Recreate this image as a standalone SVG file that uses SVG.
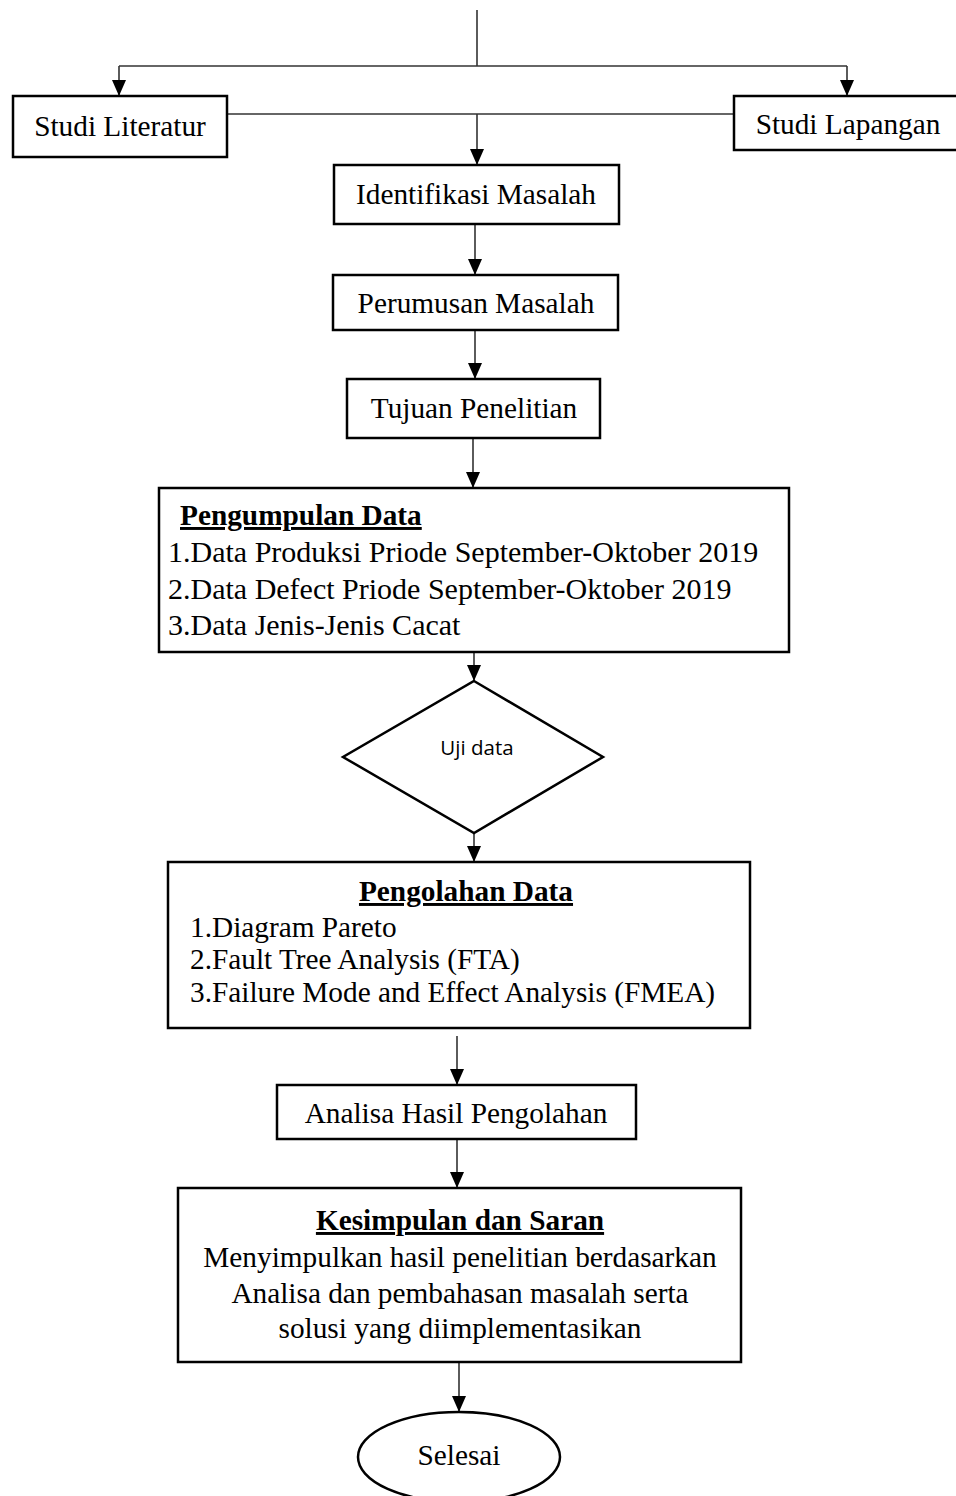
<svg xmlns="http://www.w3.org/2000/svg" width="956" height="1496" viewBox="0 0 956 1496">
  <style>
    .box { fill: #fff; stroke: #000; stroke-width: 2.5; }
    .wire { fill: none; stroke: #333; stroke-width: 1.6; }
    .t { font-family: "Liberation Serif", "Times New Roman", serif; font-size: 29.3px; fill: #000; }
    .big { font-size: 30px; }
    .c { text-anchor: middle; }
    .h { font-weight: bold; text-decoration: underline; }
    .s { font-family: "Open Sans", "Noto Sans", sans-serif; font-size: 20.5px; fill: #000; }
  </style>
  <defs>
    <marker id="arrow" markerUnits="userSpaceOnUse" markerWidth="17" markerHeight="15" refX="16" refY="7" orient="auto">
      <path d="M0,0 L16,7 L0,14 Z" fill="#000"/>
    </marker>
  </defs>

  <!-- connectors -->
  <g id="connectors">
    <path class="wire" d="M477,10 V66"/>
    <path class="wire" d="M119,66 H847"/>
    <path class="wire" d="M119,66 V96" marker-end="url(#arrow)"/>
    <path class="wire" d="M847,66 V96" marker-end="url(#arrow)"/>
    <path class="wire" d="M227,114 H734"/>
    <path class="wire" d="M477,114 V165" marker-end="url(#arrow)"/>
    <path class="wire" d="M475,224 V275" marker-end="url(#arrow)"/>
    <path class="wire" d="M475,330 V379" marker-end="url(#arrow)"/>
    <path class="wire" d="M473,438 V488" marker-end="url(#arrow)"/>
    <path class="wire" d="M474,652 V681" marker-end="url(#arrow)"/>
    <path class="wire" d="M474,833 V862" marker-end="url(#arrow)"/>
    <path class="wire" d="M457,1036 V1085" marker-end="url(#arrow)"/>
    <path class="wire" d="M457,1139 V1188" marker-end="url(#arrow)"/>
    <path class="wire" d="M459,1362 V1412" marker-end="url(#arrow)"/>
  </g>

  <g id="studi-literatur">
    <rect class="box" x="13" y="96" width="214" height="61"/>
    <text class="t c" x="120" y="136">Studi Literatur</text>
  </g>

  <g id="studi-lapangan">
    <rect class="box" x="734" y="96" width="240" height="54"/>
    <text class="t c" x="848" y="134">Studi Lapangan</text>
  </g>

  <g id="identifikasi-masalah">
    <rect class="box" x="334" y="165" width="285" height="59"/>
    <text class="t c" x="476" y="204">Identifikasi Masalah</text>
  </g>

  <g id="perumusan-masalah">
    <rect class="box" x="333" y="275" width="285" height="55"/>
    <text class="t c" x="476" y="313">Perumusan Masalah</text>
  </g>

  <g id="tujuan-penelitian">
    <rect class="box" x="347" y="379" width="253" height="59"/>
    <text class="t c" x="474" y="418">Tujuan Penelitian</text>
  </g>

  <g id="pengumpulan-data">
    <rect class="box" x="159" y="488" width="630" height="164"/>
    <text class="t h" x="180" y="525">Pengumpulan Data</text>
    <text class="t big" x="168" y="562">1.Data Produksi Priode September-Oktober 2019</text>
    <text class="t big" x="168" y="599">2.Data Defect Priode September-Oktober 2019</text>
    <text class="t big" x="168" y="635">3.Data Jenis-Jenis Cacat</text>
  </g>

  <g id="uji-data">
    <path class="box" d="M474,681 L603,757 L474,833 L343,757 Z" stroke-width="2"/>
    <text class="s c" x="477" y="755">Uji data</text>
  </g>

  <g id="pengolahan-data">
    <rect class="box" x="168" y="862" width="582" height="166"/>
    <text class="t c h" x="466" y="901">Pengolahan Data</text>
    <text class="t" x="190" y="937">1.Diagram Pareto</text>
    <text class="t" x="190" y="969">2.Fault Tree Analysis (FTA)</text>
    <text class="t" x="190" y="1002">3.Failure Mode and Effect Analysis (FMEA)</text>
  </g>

  <g id="analisa-hasil">
    <rect class="box" x="277" y="1085" width="359" height="54"/>
    <text class="t c" x="456" y="1123">Analisa Hasil Pengolahan</text>
  </g>

  <g id="kesimpulan-saran">
    <rect class="box" x="178" y="1188" width="563" height="174"/>
    <text class="t c h" x="460" y="1230">Kesimpulan dan Saran</text>
    <text class="t c" x="460" y="1267">Menyimpulkan hasil penelitian berdasarkan</text>
    <text class="t c" x="460" y="1303">Analisa dan pembahasan masalah serta</text>
    <text class="t c" x="460" y="1338">solusi yang diimplementasikan</text>
  </g>

  <g id="selesai">
    <ellipse class="box" cx="459" cy="1457" rx="101" ry="45"/>
    <text class="t c" x="459" y="1465">Selesai</text>
  </g>
</svg>
